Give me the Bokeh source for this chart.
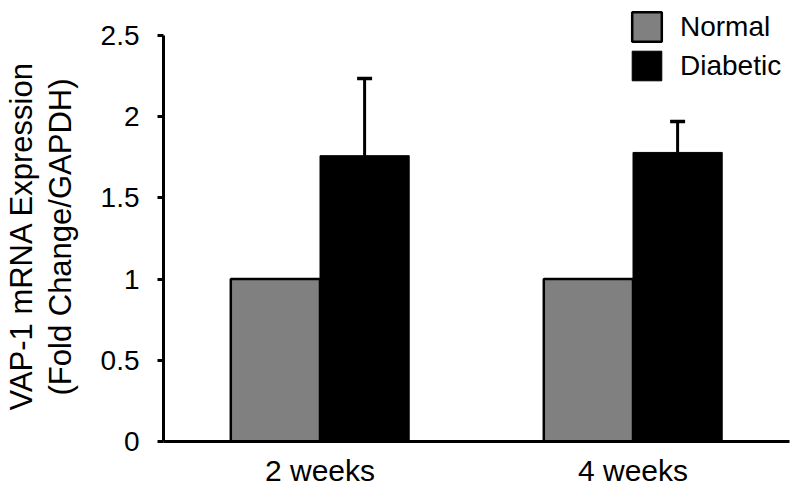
from bokeh.plotting import figure
from bokeh.models import (Range1d, LinearAxis, FixedTicker, Whisker, TeeHead,
                          ColumnDataSource, Legend, LegendItem, Title)
from bokeh.embed import file_html
from bokeh.resources import INLINE

# ---- data ----
groups = ["2 weeks", "4 weeks"]
group_pos = [0.5, 1.5]
normal = [1.0, 1.0]
diabetic = [1.76, 1.78]
diabetic_err = [0.475, 0.19]
y_ticks = [0, 0.5, 1, 1.5, 2, 2.5]
y_tick_labels = ["0", "0.5", "1", "1.5", "2", "2.5"]
y_max = 2.5
y_label_lines = ["VAP-1 mRNA Expression", "(Fold Change/GAPDH)"]

FONT = "Liberation Sans"
BAR_W = 0.285
Y_TOP = y_max * 441 / 406  # extra room above the axis for the legend

p = figure(width=795, height=490, output_backend="svg", toolbar_location=None,
           x_range=Range1d(0, 2), y_range=Range1d(0, Y_TOP),
           min_border_left=163, min_border_right=6, min_border_top=0,
           min_border_bottom=49, x_axis_type=None, y_axis_type=None)
p.grid.visible = False
p.outline_line_color = None
p.background_fill_color = "white"
p.border_fill_color = "white"

xn = [g - BAR_W / 2 for g in group_pos]
xd = [g + BAR_W / 2 for g in group_pos]
src_n = ColumnDataSource(dict(x=xn, top=normal))
src_d = ColumnDataSource(dict(x=xd, top=diabetic,
                              upper=[v + e for v, e in zip(diabetic, diabetic_err)]))

rn = p.vbar(x="x", top="top", width=BAR_W, bottom=0, source=src_n,
            fill_color="#808080", line_color="black", line_width=2.5)
rd = p.vbar(x="x", top="top", width=BAR_W, bottom=0, source=src_d,
            fill_color="black", line_color="black", line_width=1)

wh = Whisker(base="x", lower="top", upper="upper", source=src_d, dimension="height",
             line_width=3, line_color="black", lower_head=None,
             upper_head=TeeHead(size=15, line_width=3.5, line_color="black"))
p.add_layout(wh)

# y axis
yax = LinearAxis(ticker=FixedTicker(ticks=y_ticks), bounds=(0, y_max),
                 major_label_overrides={t: l for t, l in zip(y_ticks, y_tick_labels)})
yax.axis_line_width = 3
yax.major_tick_line_width = 3
yax.major_tick_out = 6
yax.major_tick_in = 0
yax.minor_tick_line_color = None
yax.major_label_text_font = FONT
yax.major_label_text_font_size = "28px"
yax.major_label_text_color = "black"
yax.major_label_standoff = 18
p.add_layout(yax, "left")

# y label, two lines, as left-side titles (inner first)
inner = Title(text=y_label_lines[1], align="left", offset=46, standoff=40,
              text_font=FONT, text_font_size="31px", text_font_style="normal",
              text_color="black")
outer = Title(text=y_label_lines[0], align="left", offset=31, standoff=-36,
              text_font=FONT, text_font_size="31px", text_font_style="normal",
              text_color="black")
p.add_layout(inner, "left")
p.add_layout(outer, "left")

# x axis
xax = LinearAxis(ticker=FixedTicker(ticks=group_pos),
                 major_label_overrides={g: n for g, n in zip(group_pos, groups)})
xax.axis_line_width = 3
xax.major_tick_line_color = None
xax.minor_tick_line_color = None
xax.major_label_text_font = FONT
xax.major_label_text_font_size = "30px"
xax.major_label_text_color = "black"
xax.major_label_standoff = 6
p.add_layout(xax, "below")

legend = Legend(items=[LegendItem(label="Normal", renderers=[rn]),
                       LegendItem(label="Diabetic", renderers=[rd])],
                location=(465, 357), orientation="vertical",
                glyph_width=37, glyph_height=37, label_height=37,
                spacing=2, padding=0, margin=0, label_standoff=15,
                label_text_font=FONT, label_text_font_size="28px",
                label_text_color="black",
                border_line_color=None, background_fill_alpha=0)
p.add_layout(legend, "center")

open("out.html", "w").write(file_html(p, INLINE))
